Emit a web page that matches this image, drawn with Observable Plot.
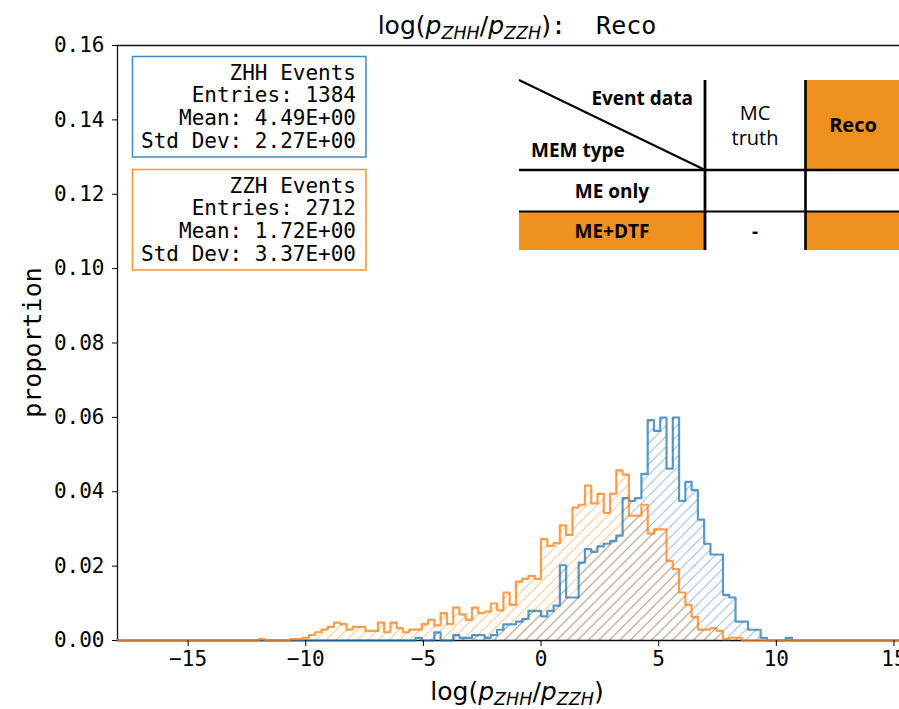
<!DOCTYPE html>
<html><head><meta charset="utf-8">
<script src="https://cdn.jsdelivr.net/npm/d3@7"></script>
<script src="https://cdn.jsdelivr.net/npm/@observablehq/plot@0.6"></script>
<style>
html,body{margin:0;padding:0;background:#fff;overflow:hidden}
#wrap{position:relative;width:899px;height:709px;overflow:hidden;background:#fff}
#wrap svg{max-width:none !important;position:absolute;left:0;top:0}
</style>
</head><body><div id="wrap"></div>
<script>
// ---- data ----
const binStart = -16;          // left edge of bin index 0
const binWidth = 4 / 15;       // bin width in log-ratio units
const xDomain = [-18, 16];
const xTicks = [-15, -10, -5, 0, 5, 10, 15];
const yTicks = [0, 0.02, 0.04, 0.06, 0.08, 0.10, 0.12, 0.14, 0.16];

// ZZH events: counts per bin, first value is bin index 15
const zzhFirstBin = 15;
const zzhCounts = [1,0,0,0,0,1,1,2,4,6,8,10,13,12,8,10,10,7,7,13,6,13,9,6,8,8,12,15,11,20,12,24,19,15,24,20,
  21,27,22,35,26,43,45,47,45,74,69,71,84,77,97,99,113,100,107,93,107,124,121,91,91,99,78,81,81,
  58,52,35,26,17,8,8,9,7,1,2,2];
// ZHH events: counts per bin, first value is bin index 40
const zhhFirstBin = 40;
const zhhCounts = [1,0,0,3,0,0,2,1,1,2,2,1,2,4,6,6,7,8,11,11,9,11,13,28,16,16,29,34,33,35,36,37,39,
  53,52,53,62,82,78,83,64,83,52,59,56,45,36,32,32,17,16,7,7,4,4,1,0,0,0,1];

const seriesNames = ["ZHH", "ZZH"];
const entries = [1384, 2712];
const means = ["4.49E+00", "1.72E+00"];
const stdDevs = ["2.27E+00", "3.37E+00"];
const colors = ["#1f77b4", "#ff7f0e"];

const tableCols = ["MC", "truth", "Reco"];
const tableRows = ["ME only", "ME+DTF"];
const tableCorner = ["Event data", "MEM type"];
const tableOrange = "#F0901F";

// ---- build step series (proportion = count / entries) ----
function steps(counts, first, total) {
  const pts = [];
  for (let k = -8; k <= 124; k++) {
    const i = k - first;
    const c = (i >= 0 && i < counts.length) ? counts[i] : 0;
    pts.push({x: Math.max(xDomain[0], binStart + k * binWidth), y: c / total});
  }
  pts.push({x: xDomain[1], y: pts[pts.length - 1].y});
  return pts;
}
const zhh = steps(zhhCounts, zhhFirstBin, entries[0]);
const zzh = steps(zzhCounts, zzhFirstBin, entries[1]);

const mono = "'DejaVu Sans Mono', monospace";
const sans = "'DejaVu Sans', sans-serif";

const svgNode = Plot.plot({
  width: 917, height: 709,
  marginLeft: 117, marginRight: 0, marginTop: 45, marginBottom: 69,
  style: {fontFamily: mono, fontSize: "21px", color: "#000", background: "#fff", overflow: "visible", maxWidth: "none"},
  x: {domain: xDomain},
  y: {domain: [0, 0.16]},
  marks: [
    Plot.areaY(zhh, {x: "x", y: "y", curve: "step-after", fill: "url(#hatch-blue)"}),
    Plot.areaY(zzh, {x: "x", y: "y", curve: "step-after", fill: "url(#hatch-orange)"}),
    Plot.ruleX([xDomain[0]], {stroke: "#111", strokeWidth: 1.3}),
    Plot.ruleY([0.16], {stroke: "#111", strokeWidth: 1.3}),
    Plot.ruleY([0], {stroke: "#111", strokeWidth: 1.3}),
    Plot.lineY(zhh, {x: "x", y: "y", curve: "step-after", stroke: colors[0], strokeOpacity: 0.75, strokeWidth: 2.2}),
    Plot.lineY(zzh, {x: "x", y: "y", curve: "step-after", stroke: colors[1], strokeOpacity: 0.75, strokeWidth: 2.2}),
    Plot.axisX({ticks: xTicks, tickSize: 6, tickPadding: 5, label: null,
      tickFormat: d => d < 0 ? "\u2212" + (-d) : String(d)}),
    Plot.axisY({ticks: yTicks, tickSize: 5, tickPadding: 8, label: null, tickFormat: ".2f"})
  ]
});
svgNode.style.maxWidth = "none";
svgNode.style.width = "917px";
svgNode.style.height = "709px";
document.getElementById("wrap").appendChild(svgNode);
const svg = d3.select(svgNode);

// hatch patterns
const defs = svg.insert("defs", ":first-child");
const s = 10.5;
function hatch(id, color) {
  const p = defs.append("pattern").attr("id", id).attr("patternUnits", "userSpaceOnUse")
    .attr("width", s).attr("height", s);
  p.append("path")
    .attr("d", `M0,${s} L${s},0 M-1,1 L1,-1 M${s-1},${s+1} L${s+1},${s-1}`)
    .attr("stroke", color).attr("stroke-opacity", 0.5).attr("stroke-width", 1).attr("fill", "none");
}
hatch("hatch-blue", colors[0]);
hatch("hatch-orange", colors[1]);

// math-style label builder
function mathLabel(sel, x, y, size, suffix) {
  const t = sel.append("text").attr("x", x).attr("y", y).attr("text-anchor", "middle")
    .attr("font-size", size).attr("font-family", sans).attr("fill", "#000").style("white-space", "pre");
  const sub = size * 0.7, d = size * 0.2;
  t.append("tspan").text("log(");
  t.append("tspan").attr("font-style", "italic").text("p");
  t.append("tspan").attr("font-style", "italic").attr("font-size", sub).attr("dy", d).text("ZHH");
  t.append("tspan").attr("dy", -d).text("/");
  t.append("tspan").attr("font-style", "italic").text("p");
  t.append("tspan").attr("font-style", "italic").attr("font-size", sub).attr("dy", d).text("ZZH");
  t.append("tspan").attr("dy", -d).text(")");
  if (suffix) t.append("tspan").attr("font-family", mono).text(suffix);
}
mathLabel(svg, 517, 34, 25, ":  Reco");
mathLabel(svg, 517, 700, 25, null);

svg.append("text").attr("transform", "translate(41,342.5) rotate(-90)")
  .attr("text-anchor", "middle").attr("font-family", mono).attr("font-size", 25)
  .attr("fill", "#000").text("proportion");

// stat boxes
[0, 1].forEach(i => {
  const top = i === 0 ? 56.5 : 169.5;
  const g = svg.append("g");
  g.append("rect").attr("x", 132.5).attr("y", top).attr("width", 233.5).attr("height", 100.5)
    .attr("fill", "#fff").attr("stroke", colors[i]).attr("stroke-opacity", 0.85).attr("stroke-width", 1.5);
  const lines = [`${seriesNames[i]} Events`, `Entries: ${entries[i]}`, `Mean: ${means[i]}`, `Std Dev: ${stdDevs[i]}`];
  lines.forEach((l, j) => {
    g.append("text").attr("x", 356).attr("y", top + 23 + j * 22.7).attr("text-anchor", "end")
      .attr("font-family", mono).attr("font-size", 21).attr("fill", "#000").style("white-space", "pre").text(l);
  });
});

// inset table
const tg = svg.append("g").attr("font-family", "'Open Sans', sans-serif").attr("fill", "#000");
const X0 = 519, X1 = 705, X2 = 805.5, X3 = 917, Y0 = 80, Y1 = 170, Y2 = 211.5, Y3 = 250;
tg.append("rect").attr("x", X0).attr("y", Y0).attr("width", X3 - X0).attr("height", Y3 - Y0).attr("fill", "#fff");
tg.append("rect").attr("x", X2).attr("y", Y0).attr("width", X3 - X2).attr("height", Y1 - Y0).attr("fill", tableOrange);
tg.append("rect").attr("x", X0).attr("y", Y2).attr("width", X1 - X0).attr("height", Y3 - Y2).attr("fill", tableOrange);
tg.append("rect").attr("x", X2).attr("y", Y2).attr("width", X3 - X2).attr("height", Y3 - Y2).attr("fill", tableOrange);
const ln = (x1, y1, x2, y2, w) => tg.append("line").attr("x1", x1).attr("y1", y1).attr("x2", x2).attr("y2", y2)
  .attr("stroke", "#000").attr("stroke-width", w);
ln(X0, Y1, X3, Y1, 2.6);
ln(X0, Y2, X3, Y2, 2.2);
ln(X1, Y0, X1, Y3, 2.8);
ln(X2, Y0, X2, Y3, 2.6);
ln(X0, Y0, X1, Y1, 2);
const tt = (x, y, txt, anchor, bold, size) => tg.append("text").attr("x", x).attr("y", y).attr("text-anchor", anchor)
  .attr("font-size", size || 19).attr("font-weight", bold ? 700 : 400).attr("fill", "#000").text(txt);
tt(693, 105, tableCorner[0], "end", true);
tt(531, 157, tableCorner[1], "start", true);
tt(755, 120, tableCols[0], "middle", false, 20);
tt(755, 145, tableCols[1], "middle", false, 20);
tt(853, 132, tableCols[2], "middle", true, 20);
tt(612, 198, tableRows[0], "middle", true);
tt(612, 238, tableRows[1], "middle", true);
tt(755, 238, "-", "middle", true);
</script></body></html>
